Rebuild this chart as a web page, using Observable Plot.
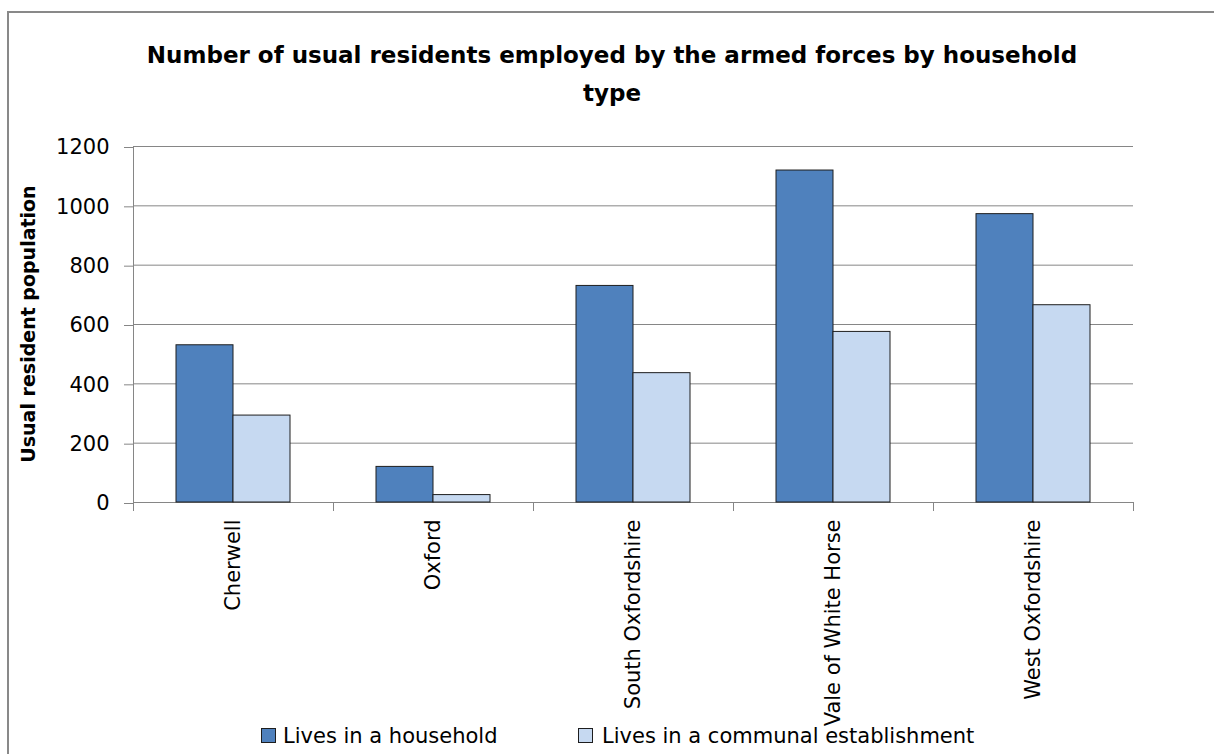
<!DOCTYPE html>
<html><head><meta charset="utf-8">
<script src="https://cdn.jsdelivr.net/npm/d3@7"></script>
<script src="https://cdn.jsdelivr.net/npm/@observablehq/plot@0.6"></script>
<style>
html,body{margin:0;padding:0;background:#fff;}
#wrap{position:relative;width:1214px;height:754px;overflow:hidden;background:#fff;}
#border{position:absolute;left:7px;top:11px;width:1300px;height:800px;border-top:2px solid #898989;border-left:2px solid #898989;}
#chart{position:absolute;left:0;top:0;}
#overlay{position:absolute;left:0;top:0;pointer-events:none;}
</style></head><body>
<div id="wrap"><div id="border"></div><div id="chart"></div><svg id="overlay" width="1214" height="754"></svg></div>
<script>
const districts = ["Cherwell", "Oxford", "South Oxfordshire", "Vale of White Horse", "West Oxfordshire"];
const household = [530, 120, 730, 1119, 972];
const communal = [293, 25, 436, 575, 665];
const seriesNames = ["Lives in a household", "Lives in a communal establishment"];
const seriesColors = ["#4F81BD", "#C6D9F1"];
const yTicks = [0, 200, 400, 600, 800, 1000, 1200];
const titleLines = ["Number of usual residents employed by the armed forces by household", "type"];
const yLabel = "Usual resident population";

const rows = districts.flatMap((d, i) => [
  {district: d, series: seriesNames[0], value: household[i]},
  {district: d, series: seriesNames[1], value: communal[i]}
]);

const chart = Plot.plot({
  width: 1214, height: 754,
  marginTop: 146, marginRight: 81, marginBottom: 252, marginLeft: 132,
  style: {fontFamily: "'DejaVu Sans', sans-serif", fontSize: "20px", color: "#000", background: "transparent", overflow: "visible"},
  fx: {domain: districts, paddingInner: 0, paddingOuter: 0, axis: null, label: null},
  x: {domain: seriesNames, paddingInner: 0, paddingOuter: 0.739, axis: null},
  y: {domain: [0, 1200], axis: null},
  color: {domain: seriesNames, range: seriesColors},
  marks: [
    Plot.ruleY(yTicks, {stroke: "#868686", strokeWidth: 1}),
    Plot.barY(rows, {fx: "district", x: "series", y: "value", fill: "series", stroke: "#1e1e1e", strokeWidth: 1}),
    Plot.axisY({ticks: yTicks, anchor: "left", tickSize: 9, tickPadding: 15, stroke: "#868686", fill: "#000", fontSize: 21, label: null, tickFormat: d => String(d), dy: 1}),
    Plot.axisFx({anchor: "bottom", tickSize: 0, tickPadding: 17, tickRotate: -90, fontSize: 21, fill: "#000", label: null})
  ]
});
document.getElementById("chart").append(chart);

// axis line and category boundary ticks from the library's scales
const fx = chart.scale("fx"), y = chart.scale("y");
const svg = d3.select(chart);
const g = svg.append("g").attr("stroke", "#868686").attr("stroke-width", 1);
const y0 = y.apply(0), yTop = y.apply(yTicks[yTicks.length - 1]);
const left = fx.apply(districts[0]);
g.append("line").attr("x1", left + 0.5).attr("x2", left + 0.5).attr("y1", yTop).attr("y2", y0 + 9);
const bounds = districts.map(d => fx.apply(d)).concat([fx.apply(districts[districts.length - 1]) + fx.bandwidth]);
g.selectAll("line.b").data(bounds).join("line").attr("class", "b")
  .attr("x1", d => d + 0.5).attr("x2", d => d + 0.5).attr("y1", y0).attr("y2", y0 + 9);

// title, y label, legend
const ov = d3.select("#overlay");
ov.selectAll("text.title").data(titleLines).join("text").attr("class", "title")
  .attr("x", 612).attr("y", (d, i) => 63 + i * 38)
  .attr("text-anchor", "middle").attr("font-family", "'DejaVu Sans', sans-serif")
  .attr("font-weight", "bold").attr("font-size", 23).attr("fill", "#000").text(d => d);
ov.append("text").attr("transform", "translate(35,324) rotate(-90)")
  .attr("text-anchor", "middle").attr("font-family", "'DejaVu Sans', sans-serif")
  .attr("font-weight", "bold").attr("font-size", 19).attr("fill", "#000").text(yLabel);
const color = chart.scale("color");
const legX = [261, 578];
const lg = ov.selectAll("g.leg").data(seriesNames).join("g").attr("class", "leg")
  .attr("transform", (d, i) => `translate(${legX[i]},728)`);
lg.append("rect").attr("x", 0.5).attr("y", 0.5).attr("width", 14).attr("height", 14)
  .attr("fill", d => color.apply(d)).attr("stroke", "#1e1e1e");
lg.append("text").attr("x", (d, i) => i === 0 ? 22 : 24).attr("y", 15)
  .attr("font-family", "'DejaVu Sans', sans-serif").attr("font-size", 21).attr("fill", "#000").text(d => d);
</script>
</body></html>
